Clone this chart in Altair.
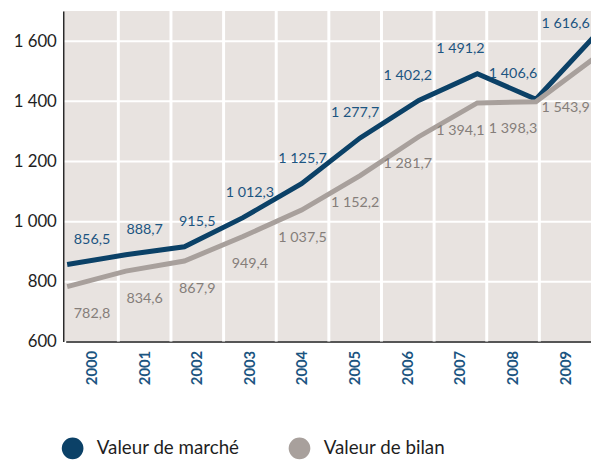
import altair as alt
import pandas as pd

# ---- data ----
years = ["2000", "2001", "2002", "2003", "2004", "2005", "2006", "2007", "2008", "2009"]
year_num = [2000, 2001, 2002, 2003, 2004, 2005, 2006, 2007, 2008, 2009]
valeur_marche = [856.5, 888.7, 915.5, 1012.3, 1125.7, 1277.7, 1402.2, 1491.2, 1406.6, 1616.6]
valeur_bilan = [782.8, 834.6, 867.9, 949.4, 1037.5, 1152.2, 1281.7, 1394.1, 1398.3, 1543.9]
series = ["Valeur de marché", "Valeur de bilan"]
y_ticks = [600, 800, 1000, 1200, 1400, 1600]

BLUE = "#0b4167"
GRAY = "#a8a09c"
BLUE_TXT = "#1c5581"
GRAY_TXT = "#857e7a"
BG = "#e8e3e0"
FONT = "Lato"


def fr(v):
    return f"{v:,.1f}".replace(",", " ").replace(".", ",")


rows = []
for s, vals in zip(series, [valeur_marche, valeur_bilan]):
    for y, n, v in zip(years, year_num, vals):
        rows.append(dict(serie=s, annee=y, an=n, valeur=v, label=fr(v)))
df = pd.DataFrame(rows)
grid_df = pd.DataFrame({"annee": years[1:]})

band = alt.Scale(type="band", domain=years, paddingInner=0, paddingOuter=0, range=[2.5, 536])
yscale = alt.Scale(domain=[600, 1700], nice=False, zero=False)
yaxis = alt.Axis(
    values=y_ticks, title=None, ticks=False, grid=True, gridColor="white", gridWidth=2,
    domain=True, domainColor="#2a2a2a", domainWidth=1.5,
    labelFont=FONT, labelFontSize=17, labelColor="#1e1e1e", labelPadding=7,
    labelExpr="replace(format(datum.value, ','), ',', ' ')",
)
Y = alt.Y("valeur:Q", scale=yscale, axis=yaxis)
color = alt.Color(
    "serie:N",
    scale=alt.Scale(domain=series, range=[BLUE, GRAY]),
    legend=alt.Legend(
        title=None, orient="none", direction="horizontal", legendX=-1.5, legendY=432,
        symbolType="circle", symbolSize=121, symbolStrokeWidth=11,
        labelFont=FONT, labelFontSize=19, labelColor="#1e1e1e", labelOffset=13.5,
        columnPadding=32, padding=0,
    ),
)

vgrid = alt.Chart(grid_df).mark_rule(color="white", strokeWidth=3).encode(
    x=alt.X("annee:N", scale=band, bandPosition=0, axis=None)
)

lines = alt.Chart(df).mark_line(strokeWidth=5, clip=True, strokeJoin="miter").encode(
    x=alt.X("an:Q", scale=alt.Scale(domain=[1999.933, 2008.94], nice=False, zero=False), axis=None),
    y=Y,
    color=color,
    order=alt.Order("an:Q"),
)

xaxis = alt.Axis(
    title=None, labelAngle=270, ticks=False, grid=False, domain=True,
    domainColor="#1e1e1e", domainWidth=1.5,
    labelFont=FONT, labelFontSize=15, labelFontWeight="bold", labelColor=BLUE_TXT,
    labelPadding=9,
)

# labels kept inside the plot area / clear of the rising line at the right end
lab_m = (
    alt.Chart(df[df.serie == series[0]])
    .transform_calculate(pos="min(datum.valeur, 1575)")
    .mark_text(font=FONT, fontSize=14.5, color=BLUE_TXT, dy=-25, baseline="middle")
    .encode(
        x=alt.X("annee:N", scale=band, axis=xaxis),
        y=alt.Y("pos:Q", scale=yscale, axis=yaxis),
        text="label:N",
    )
)

lab_b = (
    alt.Chart(df[df.serie == series[1]])
    .transform_calculate(pos="min(datum.valeur, 1470)")
    .mark_text(font=FONT, fontSize=14.5, color=GRAY_TXT, dy=28, baseline="middle")
    .encode(
        x=alt.X("annee:N", scale=band, axis=None),
        y=alt.Y("pos:Q", scale=yscale, axis=yaxis),
        text="label:N",
    )
)

chart = (
    alt.layer(vgrid, lines, lab_m, lab_b)
    .resolve_scale(x="independent")
    .properties(
        width=535, height=335,
        autosize=alt.AutoSizeParams(type="none"),
        padding={"left": 56, "top": 0, "right": 0, "bottom": 117},
    )
    .configure_view(fill=BG, stroke=None)
)

chart.save("out.html", embed_options={"renderer": "svg", "actions": False})
